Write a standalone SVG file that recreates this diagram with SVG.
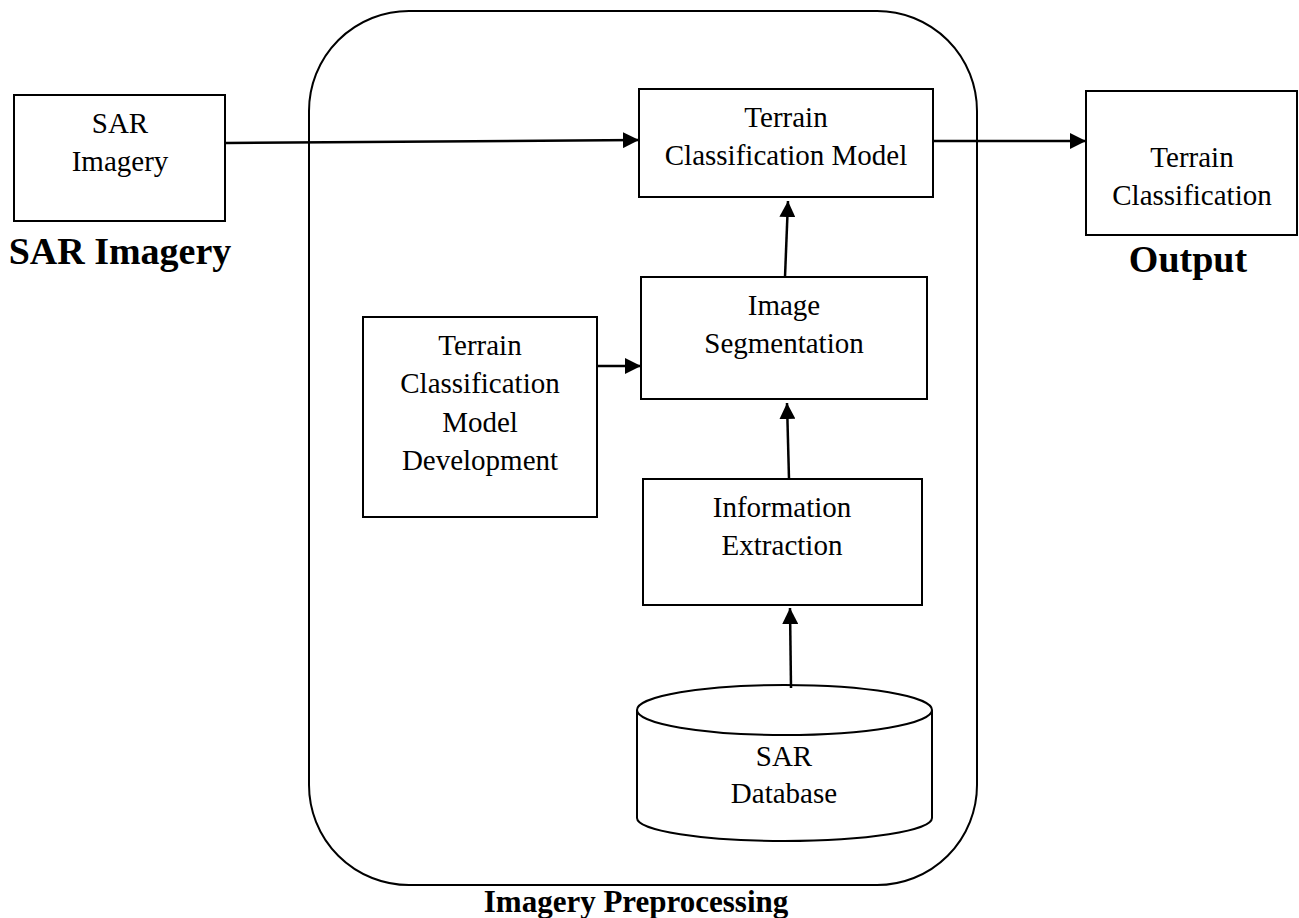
<svg xmlns="http://www.w3.org/2000/svg" width="1299" height="918" viewBox="0 0 1299 918">
<style>
.box{fill:#fff;stroke:#000;stroke-width:2}
.frame{fill:none;stroke:#000;stroke-width:2}
.t{font-family:"Liberation Serif","Times New Roman",serif;font-size:29px;fill:#000;text-anchor:middle}
.b{font-family:"Liberation Serif","Times New Roman",serif;font-weight:bold;fill:#000;text-anchor:middle}
.c{stroke:#000;stroke-width:2.5;fill:none;marker-end:url(#ah)}
</style>
<defs>
<marker id="ah" markerUnits="userSpaceOnUse" markerWidth="16" markerHeight="16" viewBox="0 0 15 15" refX="15" refY="7.5" orient="auto">
<path d="M0,0 L15,7.5 L0,15 Z" fill="#000"/>
</marker>
</defs>
<rect width="1299" height="918" fill="#fff"/>
<g id="preprocessing">
<rect class="frame" x="309" y="11" width="668" height="874" rx="100" ry="100"/>
<text class="b" x="636" y="912" font-size="31">Imagery Preprocessing</text>
</g>
<g id="sar-imagery">
<rect class="box" x="14" y="95" width="211" height="126"/>
<text class="t" x="120" y="133">SAR</text>
<text class="t" x="120" y="171">Imagery</text>
<text class="b" x="120" y="264" font-size="38">SAR Imagery</text>
</g>
<g id="model">
<rect class="box" x="639" y="89" width="294" height="108"/>
<text class="t" x="786" y="127">Terrain</text>
<text class="t" x="786" y="165">Classification Model</text>
</g>
<g id="output">
<rect class="box" x="1086" y="91" width="211" height="144"/>
<text class="t" x="1192" y="167">Terrain</text>
<text class="t" x="1192" y="205">Classification</text>
<text class="b" x="1188" y="272" font-size="38">Output</text>
</g>
<g id="segmentation">
<rect class="box" x="641" y="277" width="286" height="122"/>
<text class="t" x="784" y="315">Image</text>
<text class="t" x="784" y="353">Segmentation</text>
</g>
<g id="development">
<rect class="box" x="363" y="317" width="234" height="200"/>
<text class="t" x="480" y="355">Terrain</text>
<text class="t" x="480" y="393">Classification</text>
<text class="t" x="480" y="432">Model</text>
<text class="t" x="480" y="470">Development</text>
</g>
<g id="extraction">
<rect class="box" x="643" y="479" width="279" height="126"/>
<text class="t" x="782" y="517">Information</text>
<text class="t" x="782" y="555">Extraction</text>
</g>
<g id="database">
<path class="box" d="M637,710 L637,818 A147.5,23 0 0 0 932,818 L932,710"/>
<ellipse class="box" cx="784.5" cy="710" rx="147.5" ry="25"/>
<text class="t" x="784" y="766">SAR</text>
<text class="t" x="784" y="803">Database</text>
</g>
<g id="connectors">
<line class="c" x1="226" y1="143" x2="639" y2="140"/>
<line class="c" x1="933" y1="141" x2="1086" y2="141"/>
<line class="c" x1="785" y1="277" x2="788" y2="201"/>
<line class="c" x1="597" y1="366" x2="641" y2="366"/>
<line class="c" x1="789" y1="479" x2="787" y2="403"/>
<line class="c" x1="791" y1="688" x2="790" y2="608"/>
</g>
</svg>
